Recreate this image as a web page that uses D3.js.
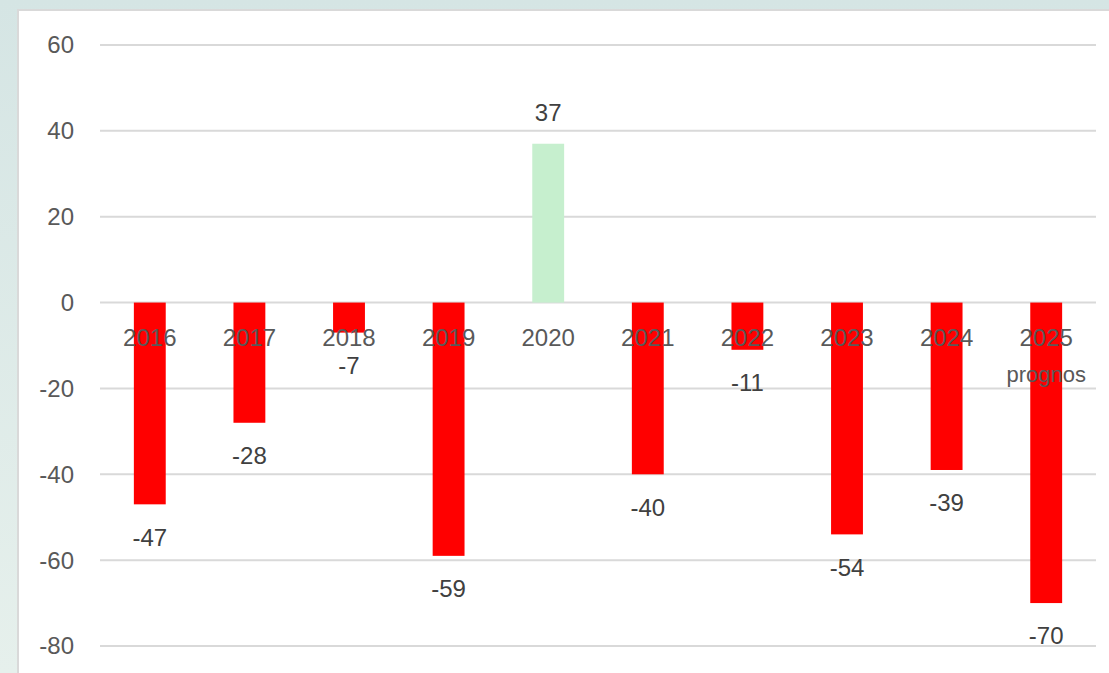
<!DOCTYPE html>
<html>
<head>
<meta charset="utf-8">
<script src="https://cdn.jsdelivr.net/npm/d3@7"></script>
<style>
  body { margin: 0; background: #e4efec; }
  svg { display: block; }
</style>
</head>
<body>
<svg id="chart" width="1109" height="673"></svg>
<script>
// data
const years = ["2016", "2017", "2018", "2019", "2020", "2021", "2022", "2023", "2024", "2025"];
const values = [-47, -28, -7, -59, 37, -40, -11, -54, -39, -70];
const subLabels = ["", "", "", "", "", "", "", "", "", "prognos"];
const yTicks = [60, 40, 20, 0, -20, -40, -60, -80];

const svg = d3.select("#chart");

// bakgrund
const bg = svg.append("defs").append("linearGradient")
    .attr("id", "bg").attr("x1", 0).attr("y1", 0).attr("x2", 0).attr("y2", 1);
bg.append("stop").attr("offset", "0%").attr("stop-color", "#d5e5e4");
bg.append("stop").attr("offset", "100%").attr("stop-color", "#e6f0ec");
svg.append("rect").attr("width", 1109).attr("height", 673).attr("fill", "url(#bg)");

// vit panel
svg.append("rect")
    .attr("x", 18).attr("y", 10)
    .attr("width", 1120).attr("height", 700)
    .attr("fill", "white")
    .attr("stroke", "#d9d9d9")
    .attr("stroke-width", 2);

const x = d3.scaleBand().domain(years).range([100, 1096]).paddingInner(0.68).paddingOuter(0.34);
const y = d3.scaleLinear().domain([-80, 60]).range([646, 45]);

const font = "Liberation Sans, Arial, sans-serif";

// rutnät
svg.append("g")
    .selectAll("line")
    .data(yTicks)
    .join("line")
    .attr("x1", 100).attr("x2", 1096)
    .attr("y1", d => y(d)).attr("y2", d => y(d))
    .attr("stroke", "#d9d9d9")
    .attr("stroke-width", 2);

// y-axel etiketter
svg.append("g")
    .selectAll("text")
    .data(yTicks)
    .join("text")
    .attr("x", 74)
    .attr("y", d => y(d))
    .attr("dy", "0.35em")
    .attr("text-anchor", "end")
    .attr("fill", "#595959")
    .style("font-family", font)
    .style("font-size", "24px")
    .text(d => d);

// staplar
svg.append("g")
    .selectAll("rect")
    .data(values)
    .join("rect")
    .attr("x", (d, i) => x(years[i]))
    .attr("width", x.bandwidth())
    .attr("y", d => d >= 0 ? y(d) : y(0))
    .attr("height", d => Math.abs(y(d) - y(0)))
    .attr("fill", d => d >= 0 ? "#c6efce" : "#ff0000");

// kategorietiketter
svg.append("g")
    .selectAll("text")
    .data(years)
    .join("text")
    .attr("x", d => x(d) + x.bandwidth() / 2)
    .attr("y", 338)
    .attr("dy", "0.35em")
    .attr("text-anchor", "middle")
    .attr("fill", "#595959")
    .style("font-family", font)
    .style("font-size", "24px")
    .text(d => d);

svg.append("g")
    .selectAll("text")
    .data(subLabels)
    .join("text")
    .attr("x", (d, i) => x(years[i]) + x.bandwidth() / 2)
    .attr("y", 382)
    .attr("text-anchor", "middle")
    .attr("fill", "#595959")
    .style("font-family", font)
    .style("font-size", "22px")
    .text(d => d);

// värdeetiketter
svg.append("g")
    .selectAll("text")
    .data(values)
    .join("text")
    .attr("x", (d, i) => x(years[i]) + x.bandwidth() / 2)
    .attr("y", d => d >= 0 ? y(d) - 31 : y(d) + 33)
    .attr("dy", "0.35em")
    .attr("text-anchor", "middle")
    .attr("fill", "#404040")
    .style("font-family", font)
    .style("font-size", "24px")
    .text(d => d);
</script>
</body>
</html>
